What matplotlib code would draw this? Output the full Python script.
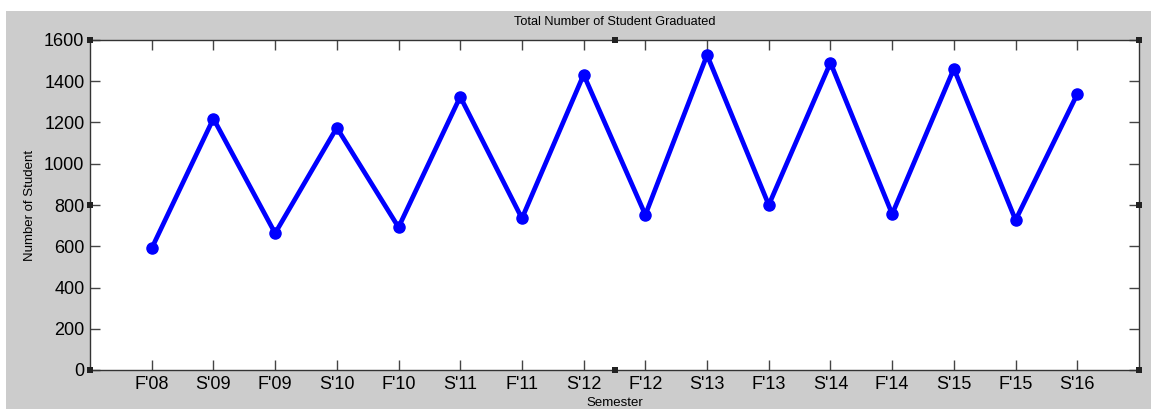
import matplotlib
matplotlib.use("Agg")
import matplotlib.pyplot as plt
from matplotlib.patches import Rectangle

semesters = ["F'08", "S'09", "F'09", "S'10", "F'10", "S'11", "F'11", "S'12",
             "F'12", "S'13", "F'13", "S'14", "F'14", "S'15", "F'15", "S'16"]
graduates = [590, 1219, 663, 1175, 692, 1325, 735, 1432,
             752, 1527, 800, 1490, 756, 1461, 727, 1338]
y_ticks = [0, 200, 400, 600, 800, 1000, 1200, 1400, 1600]

plt.rcParams['font.family'] = ['Liberation Sans', 'DejaVu Sans']

W, H = 1151, 409
fig = plt.figure(figsize=(W / 100, H / 100), dpi=100, facecolor='white')
fig.add_artist(Rectangle((6 / W, 0), (W - 6) / W, (H - 11) / H,
                         transform=fig.transFigure, facecolor='#cccccc',
                         edgecolor='none', zorder=-10))

ax = fig.add_axes([90 / W, (H - 370) / H, (1139 - 90) / W, (370 - 40) / H])
ax.set_zorder(1)
x = list(range(1, len(semesters) + 1))
ax.plot(x, graduates, color='#0000ff', linewidth=3.4, marker='o',
        markersize=8, markeredgecolor='#0000ff', markerfacecolor='#0000ff')

ax.set_xlim(0, len(semesters) + 1)
ax.set_ylim(0, 1600)
ax.set_xticks(x)
ax.set_xticklabels(semesters)
ax.set_yticks(y_ticks)
ax.tick_params(direction='in', length=7, width=1, color='#444444',
               labelsize=13, top=True, right=True, pad=4)
for s in ax.spines.values():
    s.set_color('#333333')
    s.set_linewidth(1)

ax.set_title('Total Number of Student Graduated', fontsize=9.2, pad=11)
ax.set_xlabel('Semester', fontsize=9.5, labelpad=3)
ax.set_ylabel('Number of Student', fontsize=9.5, labelpad=6)

# small selection handles like in the original screenshot
for (px, py) in [(90, 40), (615, 40), (1139, 40), (90, 205), (1139, 205),
                 (90, 370), (615, 370), (1139, 370)]:
    fig.add_artist(Rectangle(((px - 3) / W, (H - py - 3) / H), 6 / W, 6 / H,
                             transform=fig.transFigure, facecolor='#222222',
                             edgecolor='none', zorder=10))

fig.savefig('out.png', dpi=100, facecolor=fig.get_facecolor())
